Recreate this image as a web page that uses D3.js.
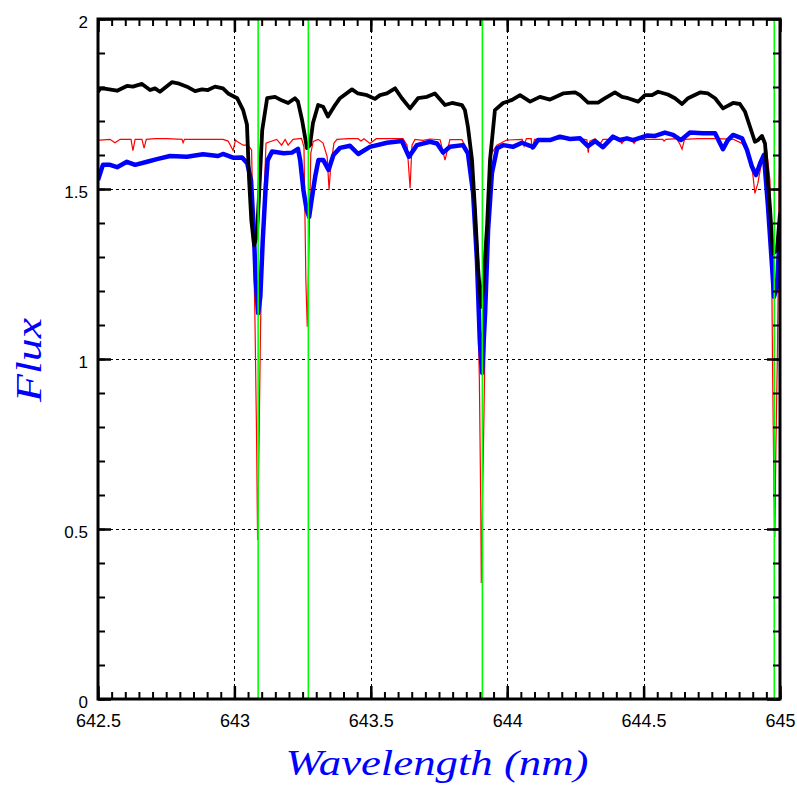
<!DOCTYPE html>
<html>
<head>
<meta charset="utf-8">
<script src="https://cdn.jsdelivr.net/npm/d3@7"></script>
<style>
  html, body { margin: 0; padding: 0; background: #fff; }
  svg { display: block; }
</style>
</head>
<body>
<div id="chart"></div>
<script>
// wavelength (nm), flux
const blackSpectrum = [
  [642.500, 1.785], [642.507, 1.795], [642.518, 1.796], [642.570, 1.789], [642.606, 1.803],
  [642.628, 1.801], [642.661, 1.809], [642.691, 1.791], [642.709, 1.796], [642.727, 1.786],
  [642.771, 1.814], [642.793, 1.811], [642.826, 1.801], [642.856, 1.788], [642.881, 1.793],
  [642.903, 1.791], [642.929, 1.801], [642.958, 1.796], [642.977, 1.781], [643.010, 1.767],
  [643.032, 1.732], [643.046, 1.690], [643.054, 1.526], [643.062, 1.409], [643.072, 1.335],
  [643.082, 1.360], [643.090, 1.477], [643.102, 1.673], [643.120, 1.767], [643.149, 1.771],
  [643.175, 1.760], [643.197, 1.753], [643.222, 1.767], [643.233, 1.757], [643.248, 1.703],
  [643.266, 1.620], [643.277, 1.629], [643.288, 1.694], [643.307, 1.747], [643.325, 1.742],
  [643.343, 1.713], [643.369, 1.747], [643.387, 1.767], [643.431, 1.793], [643.453, 1.781],
  [643.486, 1.776], [643.515, 1.765], [643.534, 1.776], [643.559, 1.781], [643.589, 1.796],
  [643.614, 1.767], [643.644, 1.737], [643.673, 1.767], [643.706, 1.771], [643.735, 1.781],
  [643.772, 1.747], [643.798, 1.753], [643.834, 1.747], [643.845, 1.732], [643.856, 1.683],
  [643.871, 1.585], [643.882, 1.438], [643.893, 1.270], [643.904, 1.153], [643.911, 1.203],
  [643.926, 1.388], [643.937, 1.585], [643.955, 1.732], [643.985, 1.753], [644.018, 1.762],
  [644.047, 1.776], [644.084, 1.757], [644.120, 1.771], [644.157, 1.763], [644.205, 1.781],
  [644.249, 1.784], [644.267, 1.776], [644.296, 1.754], [644.333, 1.754], [644.359, 1.767],
  [644.395, 1.784], [644.421, 1.771], [644.443, 1.767], [644.480, 1.757], [644.505, 1.776],
  [644.531, 1.776], [644.553, 1.786], [644.589, 1.778], [644.615, 1.767], [644.641, 1.750],
  [644.663, 1.767], [644.707, 1.784], [644.736, 1.781], [644.762, 1.767], [644.791, 1.737],
  [644.828, 1.753], [644.853, 1.750], [644.872, 1.727], [644.890, 1.683], [644.908, 1.639],
  [644.919, 1.644], [644.934, 1.656], [644.945, 1.634], [644.963, 1.448], [644.974, 1.310],
  [644.989, 1.320], [645.000, 1.430]
];

const blueSpectrum = [
  [642.500, 1.526], [642.518, 1.571], [642.544, 1.571], [642.570, 1.564], [642.606, 1.580],
  [642.636, 1.571], [642.680, 1.580], [642.716, 1.588], [642.764, 1.597], [642.826, 1.595],
  [642.885, 1.602], [642.940, 1.597], [642.958, 1.603], [642.995, 1.592], [643.028, 1.593],
  [643.047, 1.576], [643.061, 1.526], [643.071, 1.379], [643.078, 1.232], [643.087, 1.135],
  [643.095, 1.183], [643.104, 1.350], [643.114, 1.497], [643.122, 1.585], [643.138, 1.610],
  [643.181, 1.605], [643.211, 1.607], [643.233, 1.618], [643.241, 1.585], [643.253, 1.497],
  [643.265, 1.438], [643.274, 1.418], [643.283, 1.468], [643.296, 1.536], [643.308, 1.585],
  [643.326, 1.585], [643.345, 1.556], [643.363, 1.600], [643.387, 1.621], [643.424, 1.627],
  [643.454, 1.603], [643.497, 1.624], [643.559, 1.636], [643.614, 1.641], [643.640, 1.595],
  [643.669, 1.629], [643.717, 1.639], [643.743, 1.634], [643.765, 1.607], [643.790, 1.624],
  [643.838, 1.629], [643.856, 1.605], [643.875, 1.488], [643.889, 1.291], [643.900, 1.047],
  [643.908, 0.959], [643.919, 1.135], [643.930, 1.380], [643.944, 1.547], [643.963, 1.620],
  [643.985, 1.629], [644.021, 1.624], [644.054, 1.636], [644.084, 1.627], [644.095, 1.623],
  [644.113, 1.644], [644.157, 1.644], [644.193, 1.654], [644.230, 1.647], [644.267, 1.649],
  [644.296, 1.626], [644.322, 1.641], [644.351, 1.623], [644.388, 1.654], [644.413, 1.644],
  [644.439, 1.649], [644.461, 1.644], [644.512, 1.657], [644.542, 1.656], [644.578, 1.666],
  [644.608, 1.659], [644.637, 1.644], [644.670, 1.666], [644.718, 1.664], [644.762, 1.664],
  [644.791, 1.617], [644.809, 1.644], [644.828, 1.659], [644.861, 1.649], [644.879, 1.615],
  [644.897, 1.566], [644.912, 1.541], [644.927, 1.575], [644.941, 1.600], [644.956, 1.448],
  [644.971, 1.271], [644.978, 1.183], [644.989, 1.213], [644.996, 1.320], [645.000, 1.360]
];

const redSpectrum = [
  [642.500, 1.644], [642.507, 1.644], [642.544, 1.646], [642.562, 1.636], [642.581, 1.646],
  [642.621, 1.646], [642.628, 1.613], [642.636, 1.646], [642.661, 1.646], [642.669, 1.620],
  [642.677, 1.646], [642.709, 1.648], [642.753, 1.648], [642.808, 1.646], [642.812, 1.636],
  [642.817, 1.646], [642.848, 1.646], [642.958, 1.646], [642.977, 1.641], [642.995, 1.613],
  [643.004, 1.644], [643.010, 1.640], [643.032, 1.629], [643.050, 1.629], [643.063, 1.615],
  [643.075, 1.135], [643.081, 0.791], [643.085, 0.468], [643.091, 0.791], [643.096, 1.105],
  [643.106, 1.429], [643.116, 1.635], [643.130, 1.639], [643.155, 1.646], [643.173, 1.629],
  [643.186, 1.646], [643.197, 1.629], [643.215, 1.646], [643.246, 1.649], [643.255, 1.624],
  [643.262, 1.232], [643.267, 1.095], [643.273, 1.310], [643.280, 1.605], [643.289, 1.640],
  [643.307, 1.646], [643.325, 1.635], [643.340, 1.595], [643.347, 1.497], [643.353, 1.566],
  [643.365, 1.635], [643.376, 1.646], [643.420, 1.648], [643.453, 1.648], [643.464, 1.641],
  [643.475, 1.648], [643.497, 1.634], [643.520, 1.648], [643.618, 1.648], [643.633, 1.629],
  [643.644, 1.502], [643.651, 1.629], [643.662, 1.646], [643.691, 1.643], [643.717, 1.647],
  [643.754, 1.645], [643.772, 1.585], [643.790, 1.645], [643.834, 1.645], [643.853, 1.615],
  [643.875, 1.526], [643.888, 1.330], [643.898, 0.938], [643.903, 0.576], [643.905, 0.341],
  [643.910, 0.606], [643.915, 0.841], [643.922, 1.232], [643.931, 1.477], [643.943, 1.605],
  [643.962, 1.629], [643.998, 1.644], [644.055, 1.646], [644.062, 1.626], [644.070, 1.648],
  [644.088, 1.648], [644.091, 1.615], [644.100, 1.646], [644.150, 1.646], [644.230, 1.648],
  [644.267, 1.648], [644.292, 1.645], [644.297, 1.607], [644.303, 1.641], [644.322, 1.648],
  [644.340, 1.632], [644.351, 1.646], [644.410, 1.646], [644.420, 1.634], [644.432, 1.646],
  [644.454, 1.647], [644.465, 1.634], [644.475, 1.646], [644.570, 1.646], [644.575, 1.641],
  [644.582, 1.646], [644.620, 1.648], [644.632, 1.634], [644.641, 1.617], [644.650, 1.646],
  [644.700, 1.648], [644.770, 1.648], [644.830, 1.646], [644.861, 1.634], [644.882, 1.605],
  [644.900, 1.546], [644.908, 1.487], [644.919, 1.517], [644.934, 1.585], [644.945, 1.615],
  [644.951, 1.615], [644.963, 1.526], [644.970, 1.232], [644.973, 0.958], [644.978, 0.606],
  [644.981, 0.477], [644.985, 0.742], [644.990, 0.988], [644.995, 1.330], [644.997, 1.526],
  [645.000, 1.600]
];

const lineCentres = [643.087, 643.271, 643.909, 644.979];

const xMajorTicks = [642.5, 643, 643.5, 644, 644.5, 645];
const xTickLabels = ["642.5", "643", "643.5", "644", "644.5", "645"];
const yMajorTicks = [0, 0.5, 1, 1.5, 2];
const yTickLabels = ["0", "0.5", "1", "1.5", "2"];

const width = 797, height = 797;
const margin = { left: 98, right: 17, top: 19, bottom: 98 };
const innerW = width - margin.left - margin.right;
const innerH = height - margin.top - margin.bottom;

const svg = d3.select('#chart')
  .append('svg')
  .attr('width', width)
  .attr('height', height);

const x = d3.scaleLinear().domain([642.5, 645]).range([margin.left, margin.left + innerW]);
const y = d3.scaleLinear().domain([0, 2]).range([margin.top + innerH, margin.top]);

const xMinor = d3.range(0, 51).map(i => 642.5 + i * 0.05);
const yMinor = d3.range(0, 21).map(i => i * 0.1);

svg.append('clipPath').attr('id', 'plot-clip')
  .append('rect')
  .attr('x', margin.left).attr('y', margin.top)
  .attr('width', innerW).attr('height', innerH);

// grid
const grid = svg.append('g').attr('stroke', '#000').attr('stroke-width', 1).attr('stroke-dasharray', '3,3');
grid.selectAll('.gx')
  .data(xMajorTicks.slice(1, -1))
  .enter().append('line')
  .attr('x1', d => Math.round(x(d)) + 0.5).attr('x2', d => Math.round(x(d)) + 0.5)
  .attr('y1', y(0)).attr('y2', y(2));
grid.selectAll('.gy')
  .data(yMajorTicks.slice(1, -1))
  .enter().append('line')
  .attr('y1', d => Math.round(y(d)) + 0.5).attr('y2', d => Math.round(y(d)) + 0.5)
  .attr('x1', x(642.5)).attr('x2', x(645));

const line = d3.line().x(d => x(d[0])).y(d => y(d[1]));
const plot = svg.append('g').attr('clip-path', 'url(#plot-clip)');

plot.append('path').datum(redSpectrum)
  .attr('d', line).attr('fill', 'none').attr('stroke', '#ff0000').attr('stroke-width', 1.2);
plot.append('path').datum(blueSpectrum)
  .attr('d', line).attr('fill', 'none').attr('stroke', '#0000ff').attr('stroke-width', 4.5)
  .attr('stroke-linejoin', 'round');
plot.append('path').datum(blackSpectrum)
  .attr('d', line).attr('fill', 'none').attr('stroke', '#000').attr('stroke-width', 3.8)
  .attr('stroke-linejoin', 'round');

plot.selectAll('.centre')
  .data(lineCentres)
  .enter().append('line')
  .attr('x1', d => x(d)).attr('x2', d => x(d))
  .attr('y1', y(0)).attr('y2', y(2))
  .attr('stroke', '#00ff00').attr('stroke-width', 1.6);

// axes: ticks point inward on all four sides
function styleAxis(g, width) {
  g.select('.domain').remove();
  g.selectAll('.tick line').attr('stroke', '#000').attr('stroke-width', width);
  g.selectAll('text').attr('font-family', 'Liberation Sans, Arial, sans-serif')
    .attr('font-size', 18).attr('fill', '#000');
}

svg.append('g')
  .attr('transform', `translate(0,${y(0)})`)
  .call(d3.axisBottom(x).tickValues(xMinor).tickSize(-7).tickFormat(''))
  .call(g => styleAxis(g, 2));
svg.append('g')
  .attr('transform', `translate(0,${y(0)})`)
  .call(d3.axisBottom(x).tickValues(xMajorTicks).tickSize(-13).tickPadding(15)
    .tickFormat((d, i) => xTickLabels[i]))
  .call(g => styleAxis(g, 2.5));

svg.append('g')
  .attr('transform', `translate(0,${y(2)})`)
  .call(d3.axisTop(x).tickValues(xMinor).tickSize(-7).tickFormat(''))
  .call(g => styleAxis(g, 2));
svg.append('g')
  .attr('transform', `translate(0,${y(2)})`)
  .call(d3.axisTop(x).tickValues(xMajorTicks).tickSize(-13).tickFormat(''))
  .call(g => styleAxis(g, 2.5));

svg.append('g')
  .attr('transform', `translate(${x(642.5)},0)`)
  .call(d3.axisLeft(y).tickValues(yMinor).tickSize(-7).tickFormat(''))
  .call(g => styleAxis(g, 2));
svg.append('g')
  .attr('transform', `translate(${x(642.5)},0)`)
  .call(d3.axisLeft(y).tickValues(yMajorTicks).tickSize(-13).tickPadding(10)
    .tickFormat((d, i) => yTickLabels[i]))
  .call(g => styleAxis(g, 2.5))
  .call(g => g.selectAll('text').attr('font-size', 17).attr('dy', '0.5em'));

svg.append('g')
  .attr('transform', `translate(${x(645)},0)`)
  .call(d3.axisRight(y).tickValues(yMinor).tickSize(-7).tickFormat(''))
  .call(g => styleAxis(g, 2));
svg.append('g')
  .attr('transform', `translate(${x(645)},0)`)
  .call(d3.axisRight(y).tickValues(yMajorTicks).tickSize(-13).tickFormat(''))
  .call(g => styleAxis(g, 2.5));

// frame
svg.append('rect')
  .attr('x', x(642.5)).attr('y', y(2))
  .attr('width', innerW).attr('height', innerH)
  .attr('fill', 'none').attr('stroke', '#000').attr('stroke-width', 3);

// axis titles
const xTitle = svg.append('text')
  .text('Wavelength (nm)')
  .attr('font-family', 'Liberation Serif, serif')
  .attr('font-style', 'italic')
  .attr('font-size', 35)
  .attr('fill', '#0000ff')
  .attr('text-anchor', 'middle');
const xw = xTitle.node().getComputedTextLength();
xTitle.attr('transform', `translate(437,775) scale(${303 / xw},1)`);

const yTitle = svg.append('text')
  .text('Flux')
  .attr('font-family', 'Liberation Serif, serif')
  .attr('font-style', 'italic')
  .attr('font-size', 35)
  .attr('fill', '#0000ff')
  .attr('text-anchor', 'middle');
const yw = yTitle.node().getComputedTextLength();
yTitle.attr('transform', `translate(41,360) rotate(-90) scale(${84 / yw},1)`);
</script>
</body>
</html>
